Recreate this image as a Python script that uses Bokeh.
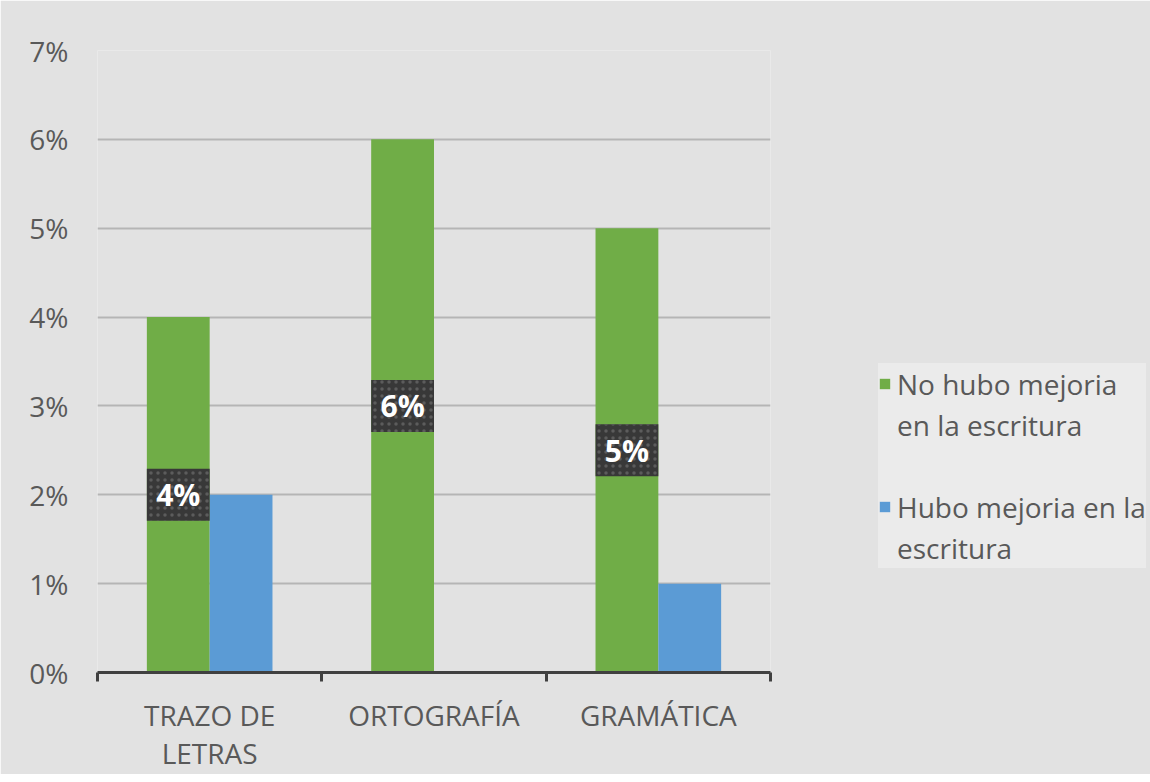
from bokeh.plotting import figure
from bokeh.models import (Range1d, FixedTicker, NumeralTickFormatter, Legend,
                          LegendItem, ColumnDataSource)
from bokeh.core.properties import value
from bokeh.embed import file_html
from bokeh.resources import INLINE

# ---- data ----
categories = ["TRAZO DE\nLETRAS", "ORTOGRAFÍA", "GRAMÁTICA"]
no_mejoria = [0.04, 0.06, 0.05]
mejoria = [0.02, 0.00, 0.01]
series_names = ["No hubo mejoria\nen la escritura", "Hubo mejoria en la\nescritura"]
data_labels = ["4%", "6%", "5%"]
y_ticks = [0.0, 0.01, 0.02, 0.03, 0.04, 0.05, 0.06, 0.07]

FONT = "Open Sans"
BG = "#e2e2e2"
TXT = "#595959"
GREEN = "#70ad47"
BLUE = "#5b9bd5"
BW = 0.28

idx = list(range(len(categories)))
src = ColumnDataSource(dict(
    xg=[i + 0.5 - BW / 2 for i in idx],
    xb=[i + 0.5 + BW / 2 for i in idx],
    g=no_mejoria,
    b=mejoria,
    mid=[v / 2 for v in no_mejoria],
    lab=data_labels,
))

p = figure(frame_width=673, frame_height=622,
           x_range=Range1d(0, len(categories)), y_range=Range1d(0, 0.07),
           output_backend="svg", toolbar_location=None,
           min_border_left=97, min_border_top=50, min_border_bottom=102,
           min_border_right=372)
p.background_fill_color = BG
p.border_fill_color = BG
p.outline_line_color = None

r1 = p.vbar(x="xg", top="g", width=BW, fill_color=GREEN, line_color=None, source=src)
r2 = p.vbar(x="xb", top="b", width=BW, fill_color=BLUE, line_color=None, source=src)
# invisible renderer used for the wrapped continuation lines of the legend
rb = p.rect(x=[], y=[], width=0, height=0, fill_alpha=0, line_alpha=0)

# data label boxes
p.rect(x="xg", y="mid", width=BW, height=52, height_units="screen",
       fill_color="#383838", line_color=None, hatch_pattern="dot",
       hatch_color="#5c5c5c", hatch_scale=7, hatch_weight=1, source=src)
p.text(x="xg", y="mid", text="lab", text_color="white", text_font=value(FONT),
       text_font_style="bold", text_font_size="30px", text_align="center",
       text_baseline="middle", source=src)

# x axis
xa = p.xaxis[0]
xa.ticker = FixedTicker(ticks=[i + 0.5 for i in idx],
                        minor_ticks=[float(i) for i in range(len(categories) + 1)])
xa.major_label_overrides = {i + 0.5: c for i, c in zip(idx, categories)}
xa.major_tick_out = 0
xa.major_tick_in = 0
xa.minor_tick_out = 9
xa.minor_tick_in = 0
xa.minor_tick_line_color = "#404040"
xa.minor_tick_line_width = 3
xa.axis_line_color = "#404040"
xa.axis_line_width = 3
xa.major_label_standoff = 14
xa.major_label_text_font = FONT
xa.major_label_text_font_size = "28px"
xa.major_label_text_color = TXT
xa.major_label_text_line_height = 1.0

# y axis
ya = p.yaxis[0]
ya.ticker = FixedTicker(ticks=y_ticks)
ya.formatter = NumeralTickFormatter(format="0%")
ya.major_tick_out = 0
ya.major_tick_in = 0
ya.minor_tick_line_color = None
ya.axis_line_color = None
ya.major_label_standoff = 29
ya.major_label_text_font = FONT
ya.major_label_text_font_size = "28px"
ya.major_label_text_color = TXT

p.xgrid.visible = False
p.ygrid.ticker = FixedTicker(ticks=y_ticks)
p.ygrid.grid_line_color = "#b5b5b5"
p.ygrid.grid_line_width = 2

# legend: each wrapped line is its own row; a blank row separates the series
items = []
for k, (name, rend) in enumerate(zip(series_names, [r1, r2])):
    if k > 0:
        items.append(LegendItem(label=" ", renderers=[rb]))
    lines = name.split("\n")
    items.append(LegendItem(label=lines[0], renderers=[rend]))
    for ln in lines[1:]:
        items.append(LegendItem(label=ln, renderers=[rb]))

legend = Legend(items=items, location=(108, 104), orientation="vertical",
                background_fill_color="#ebebeb", background_fill_alpha=1,
                border_line_color=None, padding=21, spacing=0,
                glyph_width=13, glyph_height=13, label_standoff=6,
                label_height=41,
                label_text_font=FONT, label_text_font_size="28px",
                label_text_color=TXT, margin=0)
p.add_layout(legend, "right")

open("out.html", "w").write(file_html(p, INLINE))
